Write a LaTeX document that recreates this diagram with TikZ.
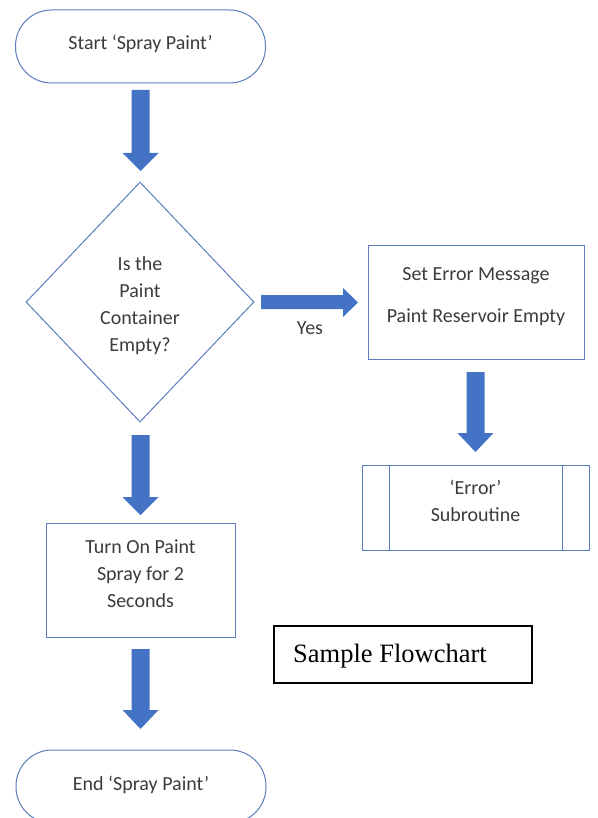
\documentclass[tikz,border=0pt]{standalone}
\usepackage{fontspec}
\setmainfont{Carlito}
\newfontfamily\seriffont{Liberation Serif}
\usetikzlibrary{shapes.geometric}
\definecolor{lineblue}{RGB}{91,125,190}
\definecolor{fillblue}{RGB}{68,114,196}
\definecolor{txtgray}{RGB}{60,60,60}
\tikzset{
  shapeline/.style={draw=lineblue, line width=1pt, fill=white},
  terminal/.style={shapeline, rounded corners=36pt, minimum width=250pt, minimum height=73pt, inner sep=0pt},
  procbox/.style={shapeline, inner sep=0pt},
  txt/.style={text=txtgray, font=\fontsize{20}{27}\selectfont, align=center, inner sep=0pt},
  blk/.style={fill=fillblue, draw=none}
}
\newcommand\BlkDown[4]{\fill[blk] (#1-9,#2) -- (#1+9,#2) -- (#1+9,#3) -- (#1+18,#3) -- (#1,#4) -- (#1-18,#3) -- (#1-9,#3) -- cycle;}
\begin{document}
\begin{tikzpicture}[x=1pt, y=-1pt]
\useasboundingbox (0,0) rectangle (597,818);
% start terminal
\node[terminal] (start) at (140.5,46.5) {};
\node[txt] (starttxt) at (140.5,43.5) {Start ‘Spray Paint’};
\BlkDown{140.5}{90}{153}{171}
% decision
\node[draw=lineblue, line width=1pt, shape=diamond, minimum width=228pt, minimum height=240pt, inner sep=0pt] (dec) at (140,302) {};
\node[txt] (dectxt) at (140,306) {Is the\\Paint\\Container\\Empty?};
% yes arrow
\fill[blk] (261,295) -- (343,295) -- (343,288) -- (358,302.5) -- (343,317) -- (343,309) -- (261,309) -- cycle;
\node[txt] (yes) at (310,328.5) {Yes};
% error message box
\node[procbox, minimum width=216pt, minimum height=114pt] (err) at (476,302) {};
\node[txt] (errtxt) at (476,297) {Set Error Message\\[15pt]Paint Reservoir Empty};
\BlkDown{475.5}{372}{433}{452}
% subroutine
\node[procbox, minimum width=227pt, minimum height=85pt] (sub) at (475.5,507.5) {};
\draw[lineblue, line width=1pt] ([xshift=28pt]sub.north west) -- ([xshift=28pt]sub.south west);
\draw[lineblue, line width=1pt] ([xshift=-27pt]sub.north east) -- ([xshift=-27pt]sub.south east);
\node[txt] (subtxt) at (475.5,500.5) {‘Error’\\Subroutine};
% left column
\BlkDown{140.5}{435}{497}{515}
\node[procbox, minimum width=189pt, minimum height=114pt] (turn) at (140.5,580) {};
\node[txt] (turntxt) at (140.5,574) {Turn On Paint\\Spray for 2\\Seconds};
\BlkDown{140.5}{649}{710}{729}
\node[terminal] (end) at (141,786.5) {};
\node[txt] (endtxt) at (141,785) {End ‘Spray Paint’};
% caption box
\node[draw=black, line width=2pt, minimum width=258pt, minimum height=57pt, inner sep=0pt] (cap) at (402.5,654) {};
\node[anchor=base west, inner sep=0pt, font=\seriffont\fontsize{26.5}{30}\selectfont] (captxt) at (293,662) {Sample Flowchart};
\end{tikzpicture}
\end{document}
